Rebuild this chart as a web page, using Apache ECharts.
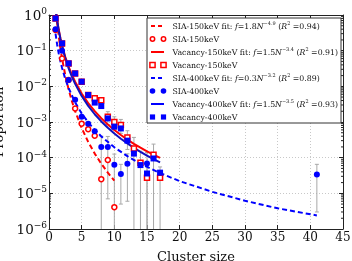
<!DOCTYPE html>
<html><head><meta charset="utf-8">
<script src="https://cdn.jsdelivr.net/npm/echarts@6/dist/echarts.min.js"></script>
<style>html,body{margin:0;padding:0;background:#fff}#c{width:352px;height:261px}</style>
</head><body><div id="c"></div>
<script>
// ---- data ----
const sizes = [1,2,3,4,5,6,7,8,9,10,11,12,13,14,15,16,17];
const sia150 = [0.38,0.06,0.015,0.0024,9e-4,6.3e-4,4.1e-4,2.5e-5,8.6e-5,4.1e-6,null,null,null,null,null,null,null];
const vac150 = [0.8,0.16,0.044,0.023,0.0135,0.0057,0.0046,0.0041,0.0014,0.001,8.3e-4,3.7e-4,1.8e-4,7.2e-5,2.75e-5,1.2e-4,2.75e-5];
const sia400 = [0.40,0.10,0.015,0.0042,0.0014,9e-4,5.5e-4,2e-4,2e-4,6.3e-5,3.5e-5,6.7e-5,null,null,6.9e-5,null,null];
const vac400 = [0.80,0.16,0.044,0.023,0.0135,0.0057,0.0035,0.0028,0.00126,7.4e-4,6.6e-4,3e-4,1.3e-4,6.2e-5,3.6e-5,9.5e-5,3.8e-5];
const sia400ExtraN = [41];
const sia400ExtraV = [3.4e-5];
// symmetric error bars (same order as sizes); 0 = none
const sia400Err = [0,0,0,0,0,0,0,2e-4,1.93e-4,6.3e-5,3e-5,6.1e-5,0,0,7e-5,0,0];
const sia400ExtraErr = [3.1e-5];
const vac150Err = [0,0,0,0,0,0,0,0,5.5e-4,4e-4,3.5e-4,2e-4,1.9e-4,8e-5,2.75e-5,1.2e-4,2.75e-5];

const sia150FitN = [1,1.25,1.5,1.75,2,2.5,3,3.5,4,5,6,7,8,9,10];
const sia150FitV = [1.8,0.603,0.247,0.116,0.0603,0.0202,0.00827,0.00388,0.00202,6.77e-4,2.77e-4,1.30e-4,6.77e-5,3.80e-5,2.27e-5];
const vacFitN = [1,1.25,1.5,1.75,2,2.5,3,3.5,4,5,6,7,8,9,10,11,12,13,14,15,16,17];
const vac150FitV = [1.5,0.702,0.378,0.224,0.142,0.0665,0.0358,0.0212,0.01346,0.0063,0.00339,0.00201,0.001275,8.55e-4,5.97e-4,4.32e-4,3.21e-4,2.45e-4,1.90e-4,1.505e-4,1.209e-4,9.83e-5];
const vac400FitV = [1.5,0.687,0.363,0.212,0.1326,0.0607,0.0321,0.0187,0.01172,0.00537,0.00284,0.00165,0.001036,6.86e-4,4.74e-4,3.40e-4,2.51e-4,1.89e-4,1.46e-4,1.148e-4,9.16e-5,7.41e-5];
const sia400FitN = [1,1.25,1.5,1.75,2,2.5,3,4,5,6,7,8,10,12,14,17,20,25,30,35,41];
const sia400FitV = [0.3,0.147,0.082,0.050,0.0327,0.016,0.00892,0.00355,0.00174,9.8e-4,6.0e-4,3.95e-4,1.95e-4,1.1e-4,6.8e-5,3.7e-5,2.2e-5,1.1e-5,6.2e-6,3.8e-6,2.4e-6];

const xTicks = [0,5,10,15,20,25,30,35,40,45];
const yMin = 1e-6, yMax = 1;
const legendLabels = [
  '{n|SIA-150keV fit: }{i|f}{n|=1.8}{i|N}{s|−4.9}{n| (}{i|R}{s|2}{n| =0.94)}',
  '{n|SIA-150keV}',
  '{n|Vacancy-150keV fit: }{i|f}{n|=1.5}{i|N}{s|−3.4}{n| (}{i|R}{s|2}{n| =0.91)}',
  '{n|Vacancy-150keV}',
  '{n|SIA-400keV fit: }{i|f}{n|=0.3}{i|N}{s|−3.2}{n| (}{i|R}{s|2}{n| =0.89)}',
  '{n|SIA-400keV}',
  '{n|Vacancy-400keV fit: }{i|f}{n|=1.5}{i|N}{s|−3.5}{n| (}{i|R}{s|2}{n| =0.93)}',
  '{n|Vacancy-400keV}'
];

// ---- build ----
const RED = '#ff0000', BLUE = '#0000ff', FONT = 'DejaVu Serif';
const pairs = (xs, ys) => xs.map((x,i)=>[x, ys[i]]).filter(p=>p[1]!=null);
function errData(xs, vs, es){
  const out=[];
  xs.forEach((x,i)=>{ if(vs[i]!=null && es[i]) out.push([x, vs[i]-es[i], vs[i]+es[i]]); });
  return out;
}
const errAll = errData(sizes, sia400, sia400Err)
  .concat(errData(sia400ExtraN, sia400ExtraV, sia400ExtraErr))
  .concat(errData(sizes, vac150, vac150Err));

const minorVals = [];
for (let d=-6; d<0; d++) for (let k=2;k<=9;k++) minorVals.push(k*Math.pow(10,d));

const chart = echarts.init(document.getElementById('c'), null, {renderer:'canvas'});
const axisLineStyle = {color:'#222', width:1};
const option = {
  animation:false,
  grid:{left:49,right:9,top:15,bottom:32,containLabel:false,outerBoundsMode:'none'},
  xAxis:[{
    type:'value', min:0, max:45, interval:5, position:'bottom',
    axisLine:{show:true,onZero:false,lineStyle:axisLineStyle},
    axisTick:{show:true,inside:true,length:4,lineStyle:{color:'#222'}},
    axisLabel:{fontFamily:FONT,fontSize:12,color:'#111',margin:3,
      formatter:v=> xTicks.includes(v)? String(v):''},
    splitLine:{show:true,lineStyle:{color:'#c8c8c8',type:[1,2],width:1}},
    name:'Cluster size', nameLocation:'middle', nameGap:22,
    nameTextStyle:{fontFamily:FONT,fontSize:13,color:'#111'}
  },{
    type:'value', min:0, max:45, interval:5, position:'top',
    axisLine:{show:true,onZero:false,lineStyle:axisLineStyle},
    axisTick:{show:true,inside:true,length:4,lineStyle:{color:'#222'}},
    axisLabel:{show:false}, splitLine:{show:false}
  }],
  yAxis:[{
    type:'log', logBase:10, min:yMin, max:yMax, splitNumber:6, position:'left',
    axisLine:{show:true,onZero:false,lineStyle:axisLineStyle},
    axisTick:{show:true,inside:true,length:4,lineStyle:{color:'#222'}},
    axisLabel:{margin:2, color:'#111',
      formatter:v=>{const e=Math.round(Math.log10(v)); return '{b|10}{s|'+(e<0?'−'+(-e):e)+'}';},
      rich:{b:{fontFamily:FONT,fontSize:13.5,lineHeight:16,verticalAlign:'bottom',color:'#111'},
            s:{fontFamily:FONT,fontSize:9,lineHeight:16,verticalAlign:'top',color:'#111'}}},
    splitLine:{show:true,lineStyle:{color:'#c8c8c8',type:[1,2],width:1}},
    name:'Proportion', nameLocation:'middle', nameGap:33,
    nameTextStyle:{fontFamily:FONT,fontSize:13,color:'#111'}
  },{
    type:'log', logBase:10, min:yMin, max:yMax, splitNumber:6, position:'right',
    axisLine:{show:true,onZero:false,lineStyle:axisLineStyle},
    axisTick:{show:true,inside:true,length:4,lineStyle:{color:'#222'}},
    axisLabel:{show:false}, splitLine:{show:false}
  }],
  series:[
    { type:'custom', name:'minorTicks', silent:true, z:1,
      data: minorVals.map(v=>[v]),
      renderItem:(params, api)=>{
        const v = api.value(0);
        const l = api.coord([0, v]); const r = api.coord([45, v]);
        return {type:'group', children:[
          {type:'line', shape:{x1:l[0],y1:l[1],x2:l[0]+2,y2:l[1]}, style:{stroke:'#222',lineWidth:1}},
          {type:'line', shape:{x1:r[0]-2,y1:r[1],x2:r[0],y2:r[1]}, style:{stroke:'#222',lineWidth:1}}
        ]};
      },
      encode:{x:[],y:[]}
    },
    { type:'custom', name:'errors', silent:true, z:2,
      data: errAll,
      renderItem:(params, api)=>{
        const x = api.value(0), lo = api.value(1), hi = api.value(2);
        const clipped = lo <= yMin;
        const top = api.coord([x, Math.min(hi, yMax)]);
        const bot = api.coord([x, clipped? yMin : lo]);
        const st = {stroke:'#a8a8a8', lineWidth:1};
        const ch = [{type:'line', shape:{x1:top[0],y1:top[1],x2:bot[0],y2:bot[1]}, style:st},
                    {type:'line', shape:{x1:top[0]-2,y1:top[1],x2:top[0]+2,y2:top[1]}, style:st}];
        if(!clipped) ch.push({type:'line', shape:{x1:bot[0]-2,y1:bot[1],x2:bot[0]+2,y2:bot[1]}, style:st});
        return {type:'group', children:ch};
      },
      encode:{x:0,y:[1,2]}
    },
    { type:'line', name:'SIA-150keV fit', data:pairs(sia150FitN, sia150FitV), showSymbol:false, clip:true, z:3,
      lineStyle:{color:RED,width:2,type:[5,3]} },
    { type:'scatter', name:'SIA-150keV', data:pairs(sizes, sia150), symbol:'circle', symbolSize:5, z:4,
      itemStyle:{color:'#fff',borderColor:RED,borderWidth:1.5,opacity:1} },
    { type:'line', name:'Vacancy-150keV fit', data:pairs(vacFitN, vac150FitV), showSymbol:false, clip:true, z:3,
      lineStyle:{color:RED,width:2} },
    { type:'scatter', name:'Vacancy-150keV', data:pairs(sizes, vac150), symbol:'rect', symbolSize:5, z:4,
      itemStyle:{color:'#fff',borderColor:RED,borderWidth:1.5,opacity:1} },
    { type:'line', name:'SIA-400keV fit', data:pairs(sia400FitN, sia400FitV), showSymbol:false, clip:true, z:3,
      lineStyle:{color:BLUE,width:2,type:[5,3]} },
    { type:'scatter', name:'SIA-400keV', data:pairs(sizes, sia400).concat(pairs(sia400ExtraN, sia400ExtraV)), symbol:'circle', symbolSize:6, z:5,
      itemStyle:{color:BLUE,opacity:1} },
    { type:'line', name:'Vacancy-400keV fit', data:pairs(vacFitN, vac400FitV), showSymbol:false, clip:true, z:3,
      lineStyle:{color:'#1010c0',width:2} },
    { type:'scatter', name:'Vacancy-400keV', data:pairs(sizes, vac400), symbol:'rect', symbolSize:6, z:5,
      itemStyle:{color:BLUE,opacity:1} }
  ]
};

// legend drawn as graphic (matplotlib style with two markers)
const LX = 147, LY = 18, LW = 194, LH = 105, ROW0 = 26, ROWH = 13;
const kinds = [
  {t:'line',c:RED,dash:[4,3]},{t:'circ',c:RED,open:true},
  {t:'line',c:RED},{t:'rect',c:RED,open:true},
  {t:'line',c:BLUE,dash:[4,3]},{t:'circ',c:BLUE},
  {t:'line',c:BLUE},{t:'rect',c:BLUE}
];
const LFS = 7.8;
const g = [{type:'rect', shape:{x:LX,y:LY,width:LW,height:LH}, style:{fill:'#fff',stroke:'#333',lineWidth:1}, z:50}];
kinds.forEach((k,i)=>{
  const y = ROW0 + i*ROWH;
  if(k.t==='line'){
    g.push({type:'line', shape:{x1:151,y1:y,x2:164,y2:y}, style:{stroke:k.c,lineWidth:2,lineDash:k.dash||null}, z:51});
  } else {
    [152.5,163.5].forEach(x=>{
      const st = k.open? {fill:'#fff',stroke:k.c,lineWidth:1.5} : {fill:k.c};
      if(k.t==='circ') g.push({type:'circle', shape:{cx:x,cy:y,r:k.open?2.2:2.8}, style:st, z:51});
      else g.push({type:'rect', shape:{x:x-2.6,y:y-2.6,width:5.2,height:5.2}, style:st, z:51});
    });
  }
  g.push({type:'text', x:172.5, y:y, z:51, style:{text:legendLabels[i], verticalAlign:'middle', align:'left',
    fill:'#111', font:LFS+'px DejaVu Serif',
    rich:{n:{fontFamily:FONT,fontSize:LFS,lineHeight:10,verticalAlign:'bottom',fill:'#111'},
          i:{fontFamily:FONT,fontSize:LFS,fontStyle:'italic',lineHeight:10,verticalAlign:'bottom',fill:'#111'},
          s:{fontFamily:FONT,fontSize:5,lineHeight:10,verticalAlign:'top',fill:'#111'}}}});
});
option.graphic = g;
chart.setOption(option);
</script></body></html>
